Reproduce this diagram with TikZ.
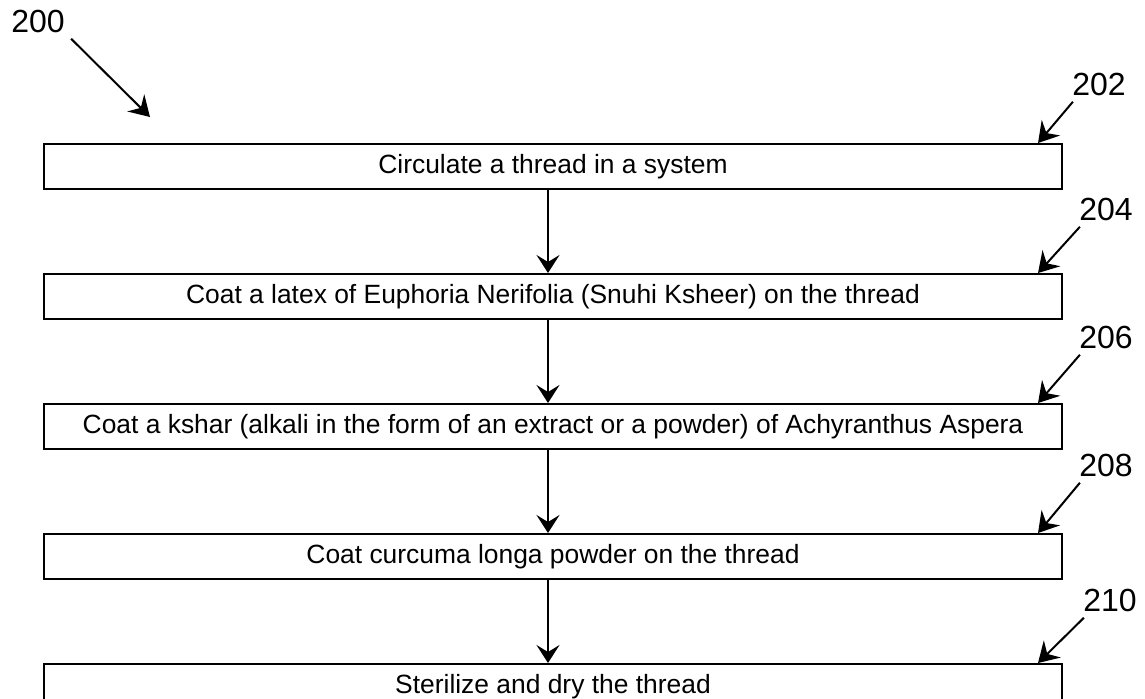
\documentclass[tikz,border=0pt]{standalone}
\usepackage{fontspec}
\setmainfont{Liberation Sans}
\usetikzlibrary{arrows.meta,positioning}
\tikzset{stepbox/.style={rectangle,draw,line width=1pt,minimum width=509pt,minimum height=22.5pt,inner sep=0pt,font=\fontsize{13.2}{16}\selectfont}}
\tikzset{refnum/.style={inner sep=3pt,font=\fontsize{16}{19}\selectfont}}
\tikzset{flow/.style={draw,line width=1pt,-{Stealth[length=9pt,width=11.5pt,inset=3.5pt]}}}
\tikzset{leader/.style={draw,line width=1pt,-{Stealth[length=10pt,width=12pt,inset=3.5pt]}}}

\begin{document}
\begin{tikzpicture}[node distance=41.5pt,x=0.5pt,y=-0.5pt]
    \useasboundingbox (0,0) rectangle (1145,698);

    \node[stepbox] (s1) at (553,166.5) {Circulate a thread in a system};
    \node[stepbox,below=of s1] (s2) {Coat a latex of Euphoria Nerifolia (Snuhi Ksheer) on the thread};
    \node[stepbox,below=of s2] (s3) {Coat a kshar (alkali in the form of an extract or a powder) of Achyranthus Aspera};
    \node[stepbox,below=of s3] (s4) {Coat curcuma longa powder on the thread};
    \node[stepbox,below=of s4] (s5) {Sterilize and dry the thread};

    \node[refnum] (r200) at (38,21) {200};
    \coordinate (p200) at (150,117);
    \node[refnum] (r202) at (1099,84) {202};
    \node[refnum] (r204) at (1106,209) {204};
    \node[refnum] (r206) at (1106,337) {206};
    \node[refnum] (r208) at (1106,465) {208};
    \node[refnum] (r210) at (1110,600) {210};

        \path[flow] ([xshift=-2.5pt]s1.south) -- ([xshift=-2.5pt]s2.north);
        \path[flow] ([xshift=-2.5pt]s2.south) -- ([xshift=-2.5pt]s3.north);
        \path[flow] ([xshift=-2.5pt]s3.south) -- ([xshift=-2.5pt]s4.north);
        \path[flow] ([xshift=-2.5pt]s4.south) -- ([xshift=-2.5pt]s5.north);

        \path[leader] (r200.south east) -- (p200);
        \path[leader] ([xshift=3.5pt]r202.south west) -- ([xshift=-12.5pt]s1.north east);
        \path[leader] ([xshift=3.5pt]r204.south west) -- ([xshift=-12.5pt]s2.north east);
        \path[leader] ([xshift=3.5pt]r206.south west) -- ([xshift=-12.5pt]s3.north east);
        \path[leader] ([xshift=3.5pt]r208.south west) -- ([xshift=-12.5pt]s4.north east);
        \path[leader] ([xshift=3.5pt]r210.south west) -- ([xshift=-12.5pt]s5.north east);
\end{tikzpicture}
\end{document}
